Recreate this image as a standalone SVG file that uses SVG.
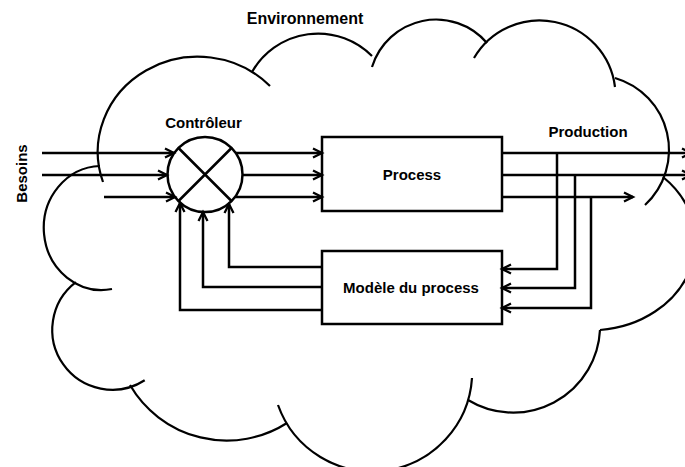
<svg xmlns="http://www.w3.org/2000/svg" width="685" height="467" viewBox="0 0 685 467">
<style>
.cloud{fill:none;stroke:#000;stroke-width:2.2}
.box{fill:#fff;stroke:#000;stroke-width:2.5}
.ln{fill:none;stroke:#000;stroke-width:2.5}
.lbl{font-family:"Liberation Sans",Arial,sans-serif;font-weight:bold;font-size:15px;fill:#000}
</style>
<defs>
<marker id="arr" markerUnits="userSpaceOnUse" markerWidth="14" markerHeight="14" refX="10" refY="5" orient="auto" overflow="visible">
<path d="M1,0.5 L10,5 L1,9.5" fill="none" stroke="#000" stroke-width="2.3"/>
</marker>
</defs>
<rect width="685" height="467" fill="#fff"/>
<g id="environnement">
<path class="cloud" d="M103,182 A100,95 0 0 1 270,86"/>
<path class="cloud" d="M252,72 A76,76 0 0 1 372,56"/>
<path class="cloud" d="M372,67 A67,67 0 0 1 487,43"/>
<path class="cloud" d="M474,58 A76,76 0 0 1 615,87"/>
<path class="cloud" d="M615,78 A75,75 0 0 1 645,205"/>
<path class="cloud" d="M663,177 A105,89 0 0 1 600,330"/>
<path class="cloud" d="M600,330 A87,87 0 0 1 468,400"/>
<path class="cloud" d="M472,378 A100,100 0 0 1 278,405"/>
<path class="cloud" d="M287,423 A112,112 0 0 1 130,385"/>
<path class="cloud" d="M144.7,380.3 A60,60 0 0 1 75.9,282.1"/>
<path class="cloud" d="M100,166 A58,62 0 1 0 112,289"/>
<text class="lbl" x="305" y="24" text-anchor="middle" style="font-size:16px">Environnement</text>
</g>
<g id="besoins">
<text class="lbl" transform="translate(27,173.5) rotate(-90)" x="0" y="0" text-anchor="middle">Besoins</text>
</g>
<g id="controleur">
<circle class="box" cx="205" cy="174.5" r="37.5"/>
<path class="ln" d="M178.5,148 L231.5,201 M231.5,148 L178.5,201"/>
<text class="lbl" x="203.5" y="128" text-anchor="middle">Contrôleur</text>
</g>
<g id="process">
<rect class="box" x="322" y="137" width="180" height="74"/>
<text class="lbl" x="412" y="180" text-anchor="middle">Process</text>
</g>
<g id="modele">
<rect class="box" x="322" y="251" width="180" height="73"/>
<text class="lbl" x="411" y="293" text-anchor="middle">Modèle du process</text>
</g>
<g id="production">
<text class="lbl" x="588" y="137" text-anchor="middle">Production</text>
</g>
<g id="connectors">
<path class="ln" marker-end="url(#arr)" d="M42,153 H174"/>
<path class="ln" marker-end="url(#arr)" d="M42,175 H167"/>
<path class="ln" marker-end="url(#arr)" d="M104,197 H175"/>
<path class="ln" marker-end="url(#arr)" d="M236,153 H322"/>
<path class="ln" marker-end="url(#arr)" d="M242,175 H322"/>
<path class="ln" marker-end="url(#arr)" d="M235,197 H322"/>
<path class="ln" marker-end="url(#arr)" d="M502,153 H691"/>
<path class="ln" marker-end="url(#arr)" d="M502,175 H691"/>
<path class="ln" marker-end="url(#arr)" d="M502,197 H633"/>
<path class="ln" marker-end="url(#arr)" d="M557,153 V269 H502"/>
<path class="ln" marker-end="url(#arr)" d="M575,175 V288 H502"/>
<path class="ln" marker-end="url(#arr)" d="M591,197 V308 H502"/>
<path class="ln" marker-end="url(#arr)" d="M322,267 H229 V204"/>
<path class="ln" marker-end="url(#arr)" d="M322,287 H203 V212"/>
<path class="ln" marker-end="url(#arr)" d="M322,310 H180 V203"/>
</g>
</svg>
